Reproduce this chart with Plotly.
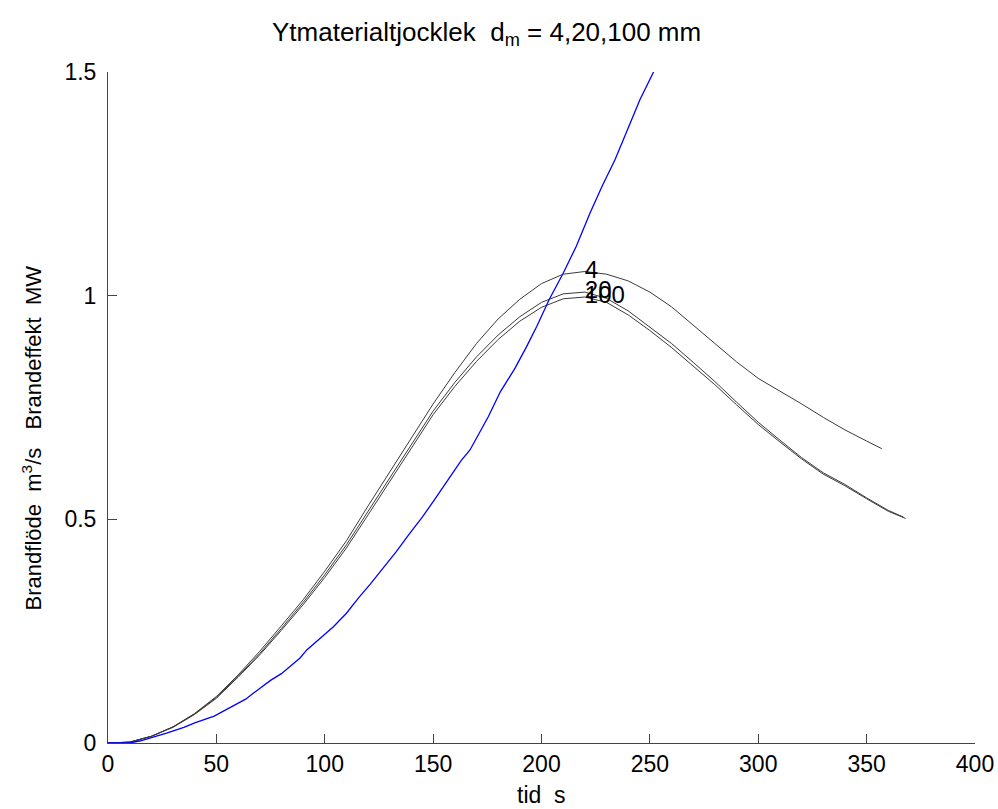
import plotly.graph_objects as go

# ---- data ----
t_blue = [0, 10, 15, 20, 27, 35, 40, 49, 56, 63.5, 67, 75, 80, 88.6, 91.7, 98, 104, 110,
          115.5, 121, 126.3, 133, 139.3, 145, 150.1, 157.8, 163, 167, 171, 175.5, 181,
          187.8, 193, 197.8, 203.5, 210, 216, 222.4, 228, 233.9, 240, 245.4, 251.9]
y_blue = [0, 0.0, 0.005, 0.012, 0.022, 0.035, 0.045, 0.06, 0.078, 0.098, 0.111, 0.14, 0.155,
          0.19, 0.208, 0.235, 0.26, 0.29, 0.324, 0.355, 0.387, 0.428, 0.469, 0.505, 0.54,
          0.596, 0.632, 0.655, 0.69, 0.73, 0.785, 0.838, 0.885, 0.931, 0.991, 1.05, 1.11,
          1.185, 1.245, 1.304, 1.375, 1.438, 1.502]

t_d4 = [0, 10, 20, 30, 40, 50, 60, 70, 80, 90, 100, 110, 120, 130, 140, 150, 160, 170, 180,
        190, 200, 210, 220, 230, 240, 250, 260, 270, 280, 290, 300, 310, 320, 330, 340, 350, 357]
y_d4 = [0, 0.002, 0.015, 0.036, 0.066, 0.104, 0.152, 0.205, 0.262, 0.32, 0.384, 0.452, 0.53,
        0.605, 0.683, 0.758, 0.828, 0.893, 0.948, 0.992, 1.027, 1.048, 1.054, 1.048, 1.033,
        1.008, 0.975, 0.934, 0.892, 0.852, 0.815, 0.787, 0.758, 0.728, 0.700, 0.675, 0.658]

t_d20 = [0, 10, 20, 30, 40, 50, 60, 70, 80, 90, 100, 110, 120, 130, 140, 150, 160, 170, 180,
         190, 200, 210, 220, 230, 240, 250, 260, 270, 280, 290, 300, 310, 320, 330, 340, 350,
         360, 367]
y_d20 = [0, 0.002, 0.015, 0.036, 0.065, 0.102, 0.149, 0.2, 0.256, 0.314, 0.376, 0.443, 0.518,
         0.592, 0.667, 0.742, 0.806, 0.863, 0.912, 0.953, 0.985, 1.004, 1.008, 0.994, 0.966,
         0.93, 0.893, 0.851, 0.808, 0.762, 0.717, 0.677, 0.638, 0.604, 0.578, 0.548, 0.52, 0.505]

t_d100 = [0, 10, 20, 30, 40, 50, 60, 70, 80, 90, 100, 110, 120, 130, 140, 150, 160, 170, 180,
          190, 200, 210, 220, 230, 240, 250, 260, 270, 280, 290, 300, 310, 320, 330, 340, 350,
          360, 368]
y_d100 = [0, 0.002, 0.015, 0.035, 0.064, 0.1, 0.147, 0.197, 0.252, 0.309, 0.37, 0.436, 0.51,
          0.584, 0.659, 0.734, 0.797, 0.853, 0.902, 0.943, 0.974, 0.993, 0.997, 0.985, 0.957,
          0.922, 0.884, 0.843, 0.801, 0.756, 0.712, 0.673, 0.635, 0.601, 0.575, 0.546, 0.518,
          0.502]

curve_labels = ["4", "20", "100"]
label_x = [220, 220, 220]
label_y = [1.054, 1.008, 0.997]

x_ticks = [0, 50, 100, 150, 200, 250, 300, 350, 400]
y_ticks = [0, 0.5, 1, 1.5]
y_ticktext = ["0", "0.5", "1", "1.5"]

FONT = "Liberation Sans, Arial, sans-serif"
GRAY = "#3a3a3a"
FS = 23

fig = go.Figure()
for t, y in [(t_d4, y_d4), (t_d20, y_d20), (t_d100, y_d100)]:
    fig.add_trace(go.Scatter(x=t, y=y, mode="lines",
                             line=dict(color=GRAY, width=1), showlegend=False,
                             hoverinfo="skip"))
fig.add_trace(go.Scatter(x=t_blue, y=y_blue, mode="lines",
                         line=dict(color="#0000ff", width=1.3), showlegend=False,
                         hoverinfo="skip"))

fig.add_trace(go.Scatter(x=label_x, y=label_y, mode="text", text=curve_labels,
                         textposition="middle right",
                         textfont=dict(family=FONT, size=24, color="black"),
                         showlegend=False, hoverinfo="skip", cliponaxis=False))

fig.update_layout(
    width=998, height=809,
    margin=dict(l=108, r=23, t=72, b=66, autoexpand=False),
    paper_bgcolor="white", plot_bgcolor="white",
    font=dict(family=FONT, size=FS, color="black"),
    xaxis=dict(range=[0, 400], tickvals=x_ticks, ticks="inside", ticklen=9,
               tickcolor="#444", showline=True, linecolor="#444", linewidth=1,
               showgrid=False, zeroline=False, tickfont=dict(size=FS), ticklabelstandoff=0),
    yaxis=dict(range=[0, 1.5], tickvals=y_ticks, ticktext=y_ticktext, ticks="inside",
               ticklen=9, tickcolor="#444", showline=True, linecolor="#444", linewidth=1,
               showgrid=False, zeroline=False, tickfont=dict(size=FS), ticklabelstandoff=6),
    annotations=[
        dict(text="Ytmaterialtjocklek&nbsp;&nbsp;d<sub>m</sub> = 4,20,100 mm",
             xref="paper", yref="paper", x=0.437, y=1.058, xanchor="center",
             yanchor="middle", showarrow=False, font=dict(size=26)),
        dict(text="tid&nbsp;&nbsp;s", xref="paper", yref="paper", x=0.5, y=-0.077,
             xanchor="center", yanchor="middle", showarrow=False, font=dict(size=FS)),
        dict(text="Brandflöde&nbsp;&nbsp;m<sup>3</sup>/s&nbsp;&nbsp;&nbsp;Brandeffekt&nbsp;&nbsp;MW",
             xref="paper", yref="paper", x=-0.088, y=0.455, xanchor="center",
             yanchor="middle", textangle=-90, showarrow=False, font=dict(size=22)),
    ],
)

fig.write_html("out.html", config={"displayModeBar": False},
               post_script="document.body.style.margin='0px';document.body.style.overflow='hidden';")
